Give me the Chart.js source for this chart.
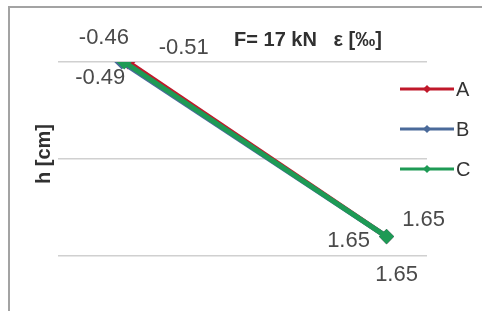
<!DOCTYPE html>
<html lang="en">
<head>
  <meta charset="UTF-8" />
  <title>F= 17 kN</title>
  <script src="https://cdn.jsdelivr.net/npm/chart.js"></script>
  <style>
    body {
      margin: 0;
      background: #ffffff;
    }

    .frame {
      position: relative;
      width: 482px;
      height: 311px;
      overflow: hidden;
    }

    .frame::before {
      content: "";
      position: absolute;
      left: 8px;
      top: 6px;
      right: -4px;
      bottom: -4px;
      border-left: 2px solid #a3a3a3;
      border-top: 2px solid #a3a3a3;
      pointer-events: none;
    }

    canvas {
      position: absolute;
      left: 0;
      top: 0;
    }
  </style>
</head>
<body>
  <div class="frame">
    <canvas id="chart" width="482" height="311"></canvas>
  </div>

  <script>
    // series names, strain at the top fibre / bottom fibre, depth h
    const seriesNames = ['A', 'B', 'C'];
    const strainTop = [-0.46, -0.51, -0.49];
    const strainBottom = [1.65, 1.65, 1.65];
    const depth = [0, 18];
    const seriesColors = ['#c0182a', '#4a6a9a', '#1e9a55'];

    // label offsets (px) from each point: [top point, bottom point]
    const labelOffsets = [
      [[-24, -24], [37, -17]],
      [[62, -14], [-38, 4]],
      [[-24, 16], [10, 38]]
    ];

    const datasets = seriesNames.map((name, i) => ({
      label: name,
      data: [
        { x: strainTop[i], y: depth[0] },
        { x: strainBottom[i], y: depth[1] }
      ],
      showLine: true,
      borderColor: seriesColors[i],
      backgroundColor: seriesColors[i],
      borderWidth: 5,
      pointStyle: 'rectRot',
      pointRadius: 4,
      order: seriesNames.length - i
    }));

    const textPlugin = {
      id: 'textPlugin',
      afterDraw(chart) {
        const ctx = chart.ctx;
        const area = chart.chartArea;
        ctx.save();

        // data labels
        ctx.font = '22px "Liberation Sans", Arial, sans-serif';
        ctx.fillStyle = '#4a4a4a';
        ctx.textAlign = 'center';
        ctx.textBaseline = 'middle';
        chart.data.datasets.forEach((ds, i) => {
          const meta = chart.getDatasetMeta(i);
          meta.data.forEach((pt, j) => {
            const off = labelOffsets[i][j];
            ctx.fillText(ds.data[j].x.toFixed(2), pt.x + off[0], pt.y + off[1]);
          });
        });

        // title (x axis title placed at the top)
        ctx.font = 'bold 20px "Liberation Sans", Arial, sans-serif';
        ctx.fillStyle = '#303030';
        ctx.fillText('F= 17 kN   \u03b5 [\u2030]', area.left + 250, area.top - 22);

        // y axis title
        ctx.save();
        ctx.translate(area.left - 14, (area.top + area.bottom) / 2 - 5);
        ctx.rotate(-Math.PI / 2);
        ctx.fillText('h [cm]', 0, 0);
        ctx.restore();

        // legend
        ctx.font = '20px "Liberation Sans", Arial, sans-serif';
        ctx.textAlign = 'left';
        chart.data.datasets.forEach((ds, i) => {
          const y = area.top + 27 + i * 40;
          const x0 = area.right - 27;
          const x1 = area.right + 27;
          ctx.strokeStyle = ds.borderColor;
          ctx.lineWidth = 3;
          ctx.beginPath();
          ctx.moveTo(x0, y);
          ctx.lineTo(x1, y);
          ctx.stroke();
          ctx.fillStyle = ds.borderColor;
          const cx = (x0 + x1) / 2;
          ctx.beginPath();
          ctx.moveTo(cx, y - 4);
          ctx.lineTo(cx + 4, y);
          ctx.lineTo(cx, y + 4);
          ctx.lineTo(cx - 4, y);
          ctx.closePath();
          ctx.fill();
          ctx.fillStyle = '#333333';
          ctx.fillText(ds.label, x1 + 2, y + 1);
        });

        ctx.restore();
      }
    };

    new Chart(document.getElementById('chart').getContext('2d'), {
      type: 'scatter',
      data: { datasets: datasets },
      options: {
        responsive: false,
        animation: false,
        layout: {
          padding: { left: 58, right: 55, top: 62, bottom: 55 }
        },
        plugins: {
          legend: { display: false },
          tooltip: { enabled: false }
        },
        scales: {
          x: {
            type: 'linear',
            min: -1.03,
            max: 1.98,
            display: false
          },
          y: {
            type: 'linear',
            min: 0,
            max: 20,
            reverse: true,
            ticks: { display: false, stepSize: 10 },
            border: { display: false },
            grid: { color: '#d0d0d0', lineWidth: 1.5, drawTicks: false }
          }
        }
      },
      plugins: [textPlugin]
    });
  </script>
</body>
</html>
